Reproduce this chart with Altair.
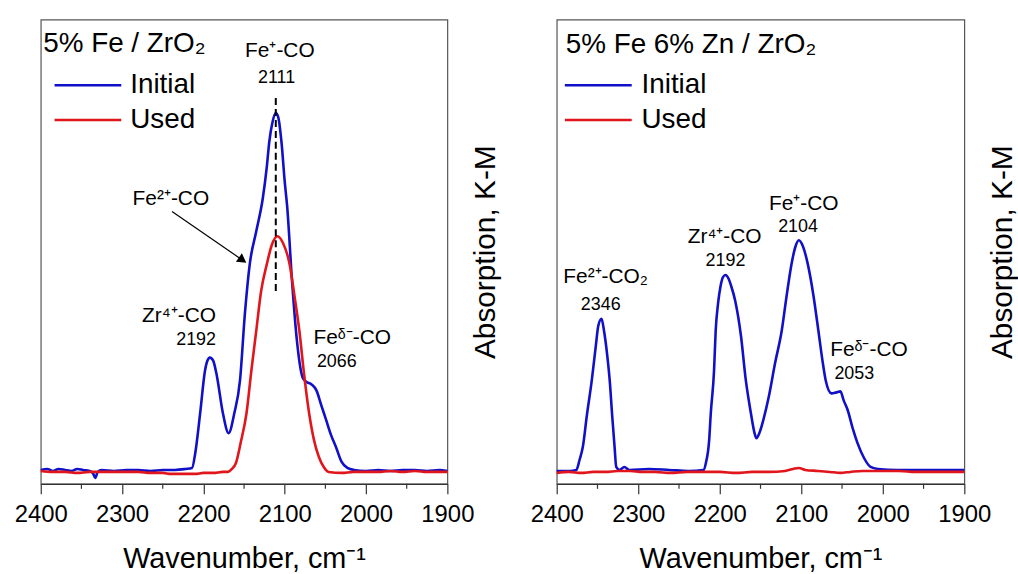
import altair as alt
import pandas as pd

# ---------------- data ----------------
# Panel 1 : 5% Fe / ZrO2
p1_initial_wn = [2400, 2392, 2385, 2378, 2370, 2362, 2355, 2348, 2340, 2336,
                 2333, 2330, 2325, 2310, 2295, 2280, 2265, 2250, 2235, 2222,
                 2214, 2210, 2204, 2198, 2195, 2192, 2188, 2184, 2176, 2169,
                 2162, 2155, 2149, 2143, 2135, 2127, 2122, 2119, 2115, 2111,
                 2108, 2104, 2100, 2097, 2091, 2085, 2078, 2074, 2067, 2061,
                 2055, 2049, 2043, 2037, 2030, 2023, 2015, 2000, 1985, 1970,
                 1955, 1940, 1925, 1910, 1900]
p1_initial_abs = [0, 1, -1, 1, 0, -1, 1, 0, -1, -3,
                  -8, -2, 0, -1, 0, 0, -1, 0, 0, 1,
                  2, 17, 57, 100, 110, 113, 110, 97, 57, 37,
                  57, 90, 157, 207, 240, 273, 305, 330, 350, 359,
                  355, 330, 290, 265, 190, 130, 93, 89, 86, 80,
                  65, 50, 35, 23, 8, 2, 0, -1, 0, -1,
                  0, 0, -1, 0, -1]
p1_used_wn = [2400, 2385, 2370, 2355, 2340, 2325, 2310, 2295, 2280, 2265,
              2250, 2240, 2225, 2210, 2200, 2188, 2176, 2170, 2165, 2160,
              2154, 2147, 2141, 2135, 2129, 2122, 2116, 2109, 2102, 2094,
              2088, 2082, 2076, 2070, 2064, 2058, 2052, 2046, 2030, 2015,
              2000, 1985, 1970, 1955, 1940, 1925, 1910, 1900]
p1_used_abs = [-1, -2, -2, -3, -2, -2, -2, -2, -2, -3,
               -3, -4, -4, -4, -3, -3, -2, -2, 1, 7,
               28, 57, 100, 140, 180, 207, 226, 235, 228, 207,
               175, 140, 95, 57, 30, 13, 3, -2, -3, -2,
               -2, -2, -1, -2, -1, -2, -2, -2]

# Panel 2 : 5% Fe 6% Zn / ZrO2
p2_initial_wn = [2400, 2384, 2376, 2372, 2368, 2363, 2357, 2352, 2349, 2345,
                 2342, 2338, 2335, 2332, 2329, 2327, 2323, 2317, 2311, 2287,
                 2262, 2238, 2220, 2217, 2213, 2211, 2207, 2205, 2202, 2199,
                 2196, 2193, 2189, 2186, 2181, 2174, 2168, 2162, 2157, 2155,
                 2151, 2146, 2140, 2132, 2124, 2118, 2112, 2107, 2103, 2098,
                 2092, 2085, 2079, 2074, 2070, 2063, 2057, 2052, 2048, 2043,
                 2037, 2031, 2023, 2015, 2006, 1982, 1945, 1900]
p2_initial_abs = [-1, -1, 0, 10, 23, 55, 90, 125, 145, 152,
                  140, 115, 90, 55, 23, 3, 0, 3, 0, 1,
                  0, -1, 0, 7, 30, 57, 100, 140, 168, 185,
                  194, 196, 192, 185, 170, 135, 90, 58, 36, 32,
                  38, 52, 73, 108, 140, 175, 207, 225, 231, 225,
                  207, 175, 140, 110, 90, 77, 78, 79, 70, 60,
                  42, 27, 12, 3, 1, 0, 0, 0]
p2_used_wn = [2400, 2385, 2370, 2355, 2340, 2325, 2310, 2295, 2280, 2260,
              2240, 2220, 2200, 2180, 2160, 2140, 2120, 2110, 2103, 2095,
              2080, 2065, 2052, 2040, 2025, 2010, 1995, 1980, 1960, 1940,
              1920, 1900]
p2_used_abs = [-3, -2, -3, -2, -2, -1, -1, -2, -2, -3,
               -2, -2, -2, -3, -2, -2, -1, 1, 2, 0,
               -1, -2, -3, -2, -1, -1, -1, -1, -2, -2,
               -2, -2]

series_names = ["Initial", "Used"]
series_colors = ["#1010C8", "#E0161C"]

# annotations (text, wavenumber, height)
p1_title = "5% Fe / ZrO₂"
p1_title_pos = [2397, 428]
p1_label_text = ["Fe⁺-CO", "Fe²⁺-CO", "Zr⁴⁺-CO", "Feᵟ⁻-CO"]
p1_label_wn = [2106, 2240, 2230, 2017]
p1_label_abs = [421, 272, 155, 133]
p1_num_text = ["2111", "2192", "2066"]
p1_num_wn = [2110, 2209, 2036]
p1_num_abs = [394, 131, 109]
p1_dash = [2111, 180, 377]                 # wn, from, to
p1_arrow = [2238.6, 260, 2151.8, 211]      # wn0, abs0, wn1, abs1
p1_legend = [2383, 2301, 2290]             # line start, line end, text
legend_abs = [387, 352]

p2_title = "5% Fe 6% Zn / ZrO₂"
p2_title_pos = [2389, 427]
p2_label_text = ["Fe²⁺-CO₂", "Zr⁴⁺-CO", "Fe⁺-CO", "Feᵟ⁻-CO"]
p2_label_wn = [2340, 2194, 2097, 2017]
p2_label_abs = [194, 234, 267, 121]
p2_num_text = ["2346", "2192", "2104", "2053"]
p2_num_wn = [2346, 2193, 2104, 2035]
p2_num_abs = [166, 210, 244, 96]
p2_legend = [2390, 2308, 2296]

major_ticks = [2400, 2300, 2200, 2100, 2000, 1900]
minor_ticks = [2350, 2250, 2150, 2050, 1950]

# ---------------- chart ----------------
FONT = "Liberation Sans"
PLOT_H = 467
xscale = alt.Scale(domain=[1900, 2400], reverse=True, nice=False, zero=False)
yscale = alt.Scale(domain=[-14, 453], nice=False, zero=False)
cscale = alt.Scale(domain=series_names, range=series_colors)

x_axis = alt.Axis(
    values=major_ticks, tickSize=10, format="d", labelOverlap=False, labelFlush=False,
    tickColor="#333", domainColor="#333", tickWidth=1.2, domainWidth=1.2,
    labelFontSize=24, labelColor="black", labelPadding=9, labelFont=FONT,
    grid=False, title="Wavenumber, cm⁻¹", titleFontSize=29, titleFontWeight="normal",
    titleColor="black", titlePadding=18, titleFont=FONT,
)
y_axis = alt.Axis(
    orient="right", title="Absorption, K-M", labels=False, ticks=False, domain=False,
    grid=False, titleFontSize=30, titleFontWeight="normal", titleColor="black",
    titleAngle=270, titleBaseline="top", titlePadding=23, titleFont=FONT,
)


def X(field):
    return alt.X(field, type="quantitative", scale=xscale, axis=x_axis)


def Y(field):
    return alt.Y(field, type="quantitative", scale=yscale, axis=y_axis)


def panel(init_wn, init_abs, used_wn, used_abs, title, title_pos,
          lab_t, lab_w, lab_a, num_t, num_w, num_a, leg, dash=None, arrow=None, width=409):
    spec = pd.concat([
        pd.DataFrame({"wn": init_wn, "abs": init_abs, "series": "Initial", "order": range(len(init_wn))}),
        pd.DataFrame({"wn": used_wn, "abs": used_abs, "series": "Used", "order": range(len(used_wn))}),
    ])
    lines = alt.Chart(spec).mark_line(strokeWidth=2.6, interpolate="monotone").encode(
        x=X("wn"), y=Y("abs"),
        color=alt.Color("series:N", scale=cscale, legend=None),
        order="order:Q",
    )
    layers = [lines]

    mdf = pd.DataFrame({"wn": minor_ticks})
    layers.append(alt.Chart(mdf).mark_rule(color="#333", strokeWidth=1.2).encode(
        x=X("wn"), y=alt.value(PLOT_H), y2=alt.value(PLOT_H + 5)))

    if dash is not None:
        ddf = pd.DataFrame({"wn": [dash[0]], "a0": [dash[1]], "a1": [dash[2]]})
        layers.append(alt.Chart(ddf).mark_rule(color="black", strokeWidth=2, strokeDash=[7, 4]).encode(
            x=X("wn"), y=Y("a0"), y2="a1:Q"))
    if arrow is not None:
        adf = pd.DataFrame({"w0": [arrow[0]], "a0": [arrow[1]], "w1": [arrow[2]], "a1": [arrow[3]]})
        layers.append(alt.Chart(adf).mark_rule(color="black", strokeWidth=1.2).encode(
            x=X("w0"), x2="w1:Q", y=Y("a0"), y2="a1:Q"))
        layers.append(alt.Chart(adf).mark_point(shape="triangle-right", filled=True, size=110,
                                                angle=35, color="black", opacity=1).encode(
            x=X("w1"), y=Y("a1")))

    tdf = pd.DataFrame({"t": [title], "wn": [title_pos[0]], "abs": [title_pos[1]]})
    layers.append(alt.Chart(tdf).mark_text(align="left", baseline="middle", fontSize=28, font=FONT,
                                           color="black").encode(
        x=X("wn"), y=Y("abs"), text="t:N"))

    ldf = pd.DataFrame({"t": lab_t, "wn": lab_w, "abs": lab_a})
    layers.append(alt.Chart(ldf).mark_text(align="center", baseline="middle", fontSize=21, font=FONT,
                                           color="black").encode(
        x=X("wn"), y=Y("abs"), text="t:N"))

    ndf = pd.DataFrame({"t": num_t, "wn": num_w, "abs": num_a})
    layers.append(alt.Chart(ndf).mark_text(align="center", baseline="middle", fontSize=18, font=FONT,
                                           color="black").encode(
        x=X("wn"), y=Y("abs"), text="t:N"))

    gdf = pd.DataFrame({"series": series_names, "w0": [leg[0]] * 2, "w1": [leg[1]] * 2,
                        "wt": [leg[2]] * 2, "abs": legend_abs})
    layers.append(alt.Chart(gdf).mark_rule(strokeWidth=2.6).encode(
        x=X("w0"), x2="w1:Q", y=Y("abs"),
        color=alt.Color("series:N", scale=cscale, legend=None)))
    layers.append(alt.Chart(gdf).mark_text(align="left", baseline="middle", fontSize=28, font=FONT,
                                           color="black").encode(
        x=X("wt"), y=Y("abs"), text="series:N"))

    return alt.layer(*layers).properties(width=width, height=PLOT_H)


left = panel(p1_initial_wn, p1_initial_abs, p1_used_wn, p1_used_abs, p1_title, p1_title_pos,
             p1_label_text, p1_label_wn, p1_label_abs, p1_num_text, p1_num_wn, p1_num_abs,
             p1_legend, dash=p1_dash, arrow=p1_arrow, width=409)
right = panel(p2_initial_wn, p2_initial_abs, p2_used_wn, p2_used_abs, p2_title, p2_title_pos,
              p2_label_text, p2_label_wn, p2_label_abs, p2_num_text, p2_num_wn, p2_num_abs,
              p2_legend, width=410)

chart = alt.hconcat(left, right, spacing=28).properties(
    padding={"left": 13, "top": 17, "right": 0, "bottom": 0},
    background="white",
).configure_view(stroke="#555", strokeWidth=1.2)

chart.save("out.html", embed_options={"renderer": "svg", "actions": False})
